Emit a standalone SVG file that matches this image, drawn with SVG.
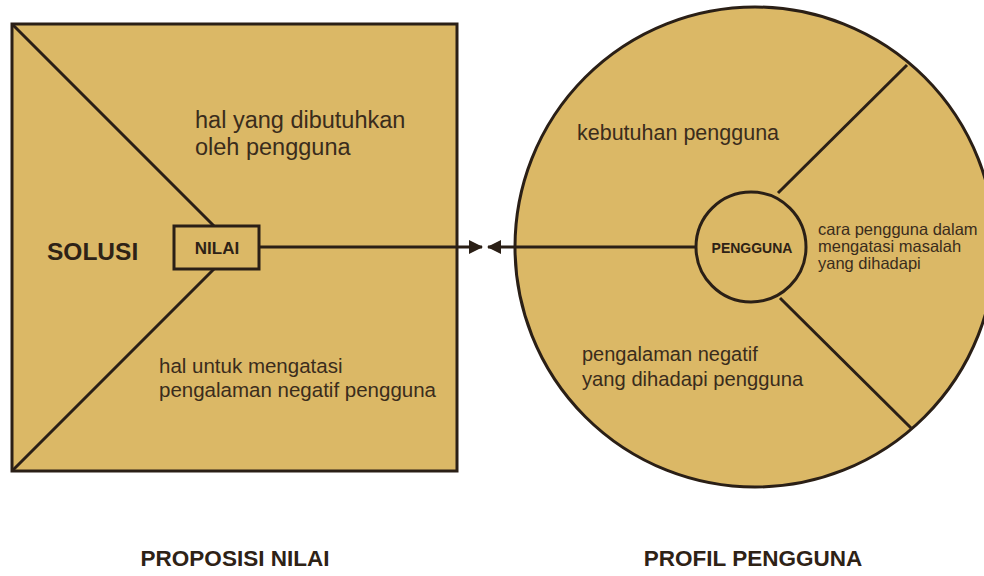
<svg xmlns="http://www.w3.org/2000/svg" width="984" height="576" viewBox="0 0 984 576">
<style>
.fill{fill:#dbb866;stroke:#2a1f16;stroke-width:3}
.ln{stroke:#2a1f16;stroke-width:3;fill:none}
.t{font-family:"Liberation Sans",Arial,sans-serif;fill:#3a2c1c}
.b{font-weight:bold;fill:#2e2216}
</style>
<defs>
<marker id="ah" viewBox="0 0 14 14" refX="13" refY="7" markerWidth="14" markerHeight="14" markerUnits="userSpaceOnUse" orient="auto">
<path d="M0,0 L14,7 L0,14 Z" fill="#2a1f16"/>
</marker>
</defs>
<rect width="984" height="576" fill="#ffffff"/>
<g id="proposisi">
<rect class="fill" x="12" y="24" width="445" height="447"/>
<line class="ln" x1="12" y1="24" x2="214" y2="226"/>
<line class="ln" x1="12" y1="471" x2="214" y2="269"/>
<text class="t" x="195" y="128" font-size="23.5">hal yang dibutuhkan</text>
<text class="t" x="195" y="155" font-size="23.5">oleh pengguna</text>
<text class="t b" x="47" y="260" font-size="24.5">SOLUSI</text>
<text class="t" x="159" y="373" font-size="20.5">hal untuk mengatasi</text>
<text class="t" x="159" y="397" font-size="20.5">pengalaman negatif pengguna</text>
</g>
<g id="nilai">
<rect class="fill" x="174" y="226" width="85" height="43"/>
<text class="t b" x="217" y="254" font-size="17" text-anchor="middle">NILAI</text>
</g>
<g id="profil">
<circle class="fill" cx="755" cy="247" r="240" stroke-width="2.5"/>
<line class="ln" x1="778" y1="193" x2="907" y2="65"/>
<line class="ln" x1="780" y1="298" x2="911" y2="428"/>
<text class="t" x="577" y="140" font-size="21.5">kebutuhan pengguna</text>
<text class="t" x="818" y="235" font-size="16.5">cara pengguna dalam</text>
<text class="t" x="818" y="252" font-size="16.5">mengatasi masalah</text>
<text class="t" x="818" y="269" font-size="16.5">yang dihadapi</text>
<text class="t" x="582" y="361" font-size="20">pengalaman negatif</text>
<text class="t" x="582" y="386" font-size="20.2">yang dihadapi pengguna</text>
</g>
<g id="pengguna">
<circle class="fill" cx="751" cy="247" r="55" stroke-width="3"/>
<text class="t b" x="752" y="253" font-size="14" text-anchor="middle">PENGGUNA</text>
</g>
<g id="connectors">
<line class="ln" x1="259" y1="247" x2="482" y2="247" stroke-width="2.5" marker-end="url(#ah)"/>
<line class="ln" x1="696" y1="247" x2="488" y2="247" stroke-width="2.5" marker-end="url(#ah)"/>
</g>
<g id="labels">
<text class="t b" x="235" y="566" font-size="22.5" text-anchor="middle">PROPOSISI NILAI</text>
<text class="t b" x="753" y="566" font-size="22.5" text-anchor="middle">PROFIL PENGGUNA</text>
</g>
</svg>
